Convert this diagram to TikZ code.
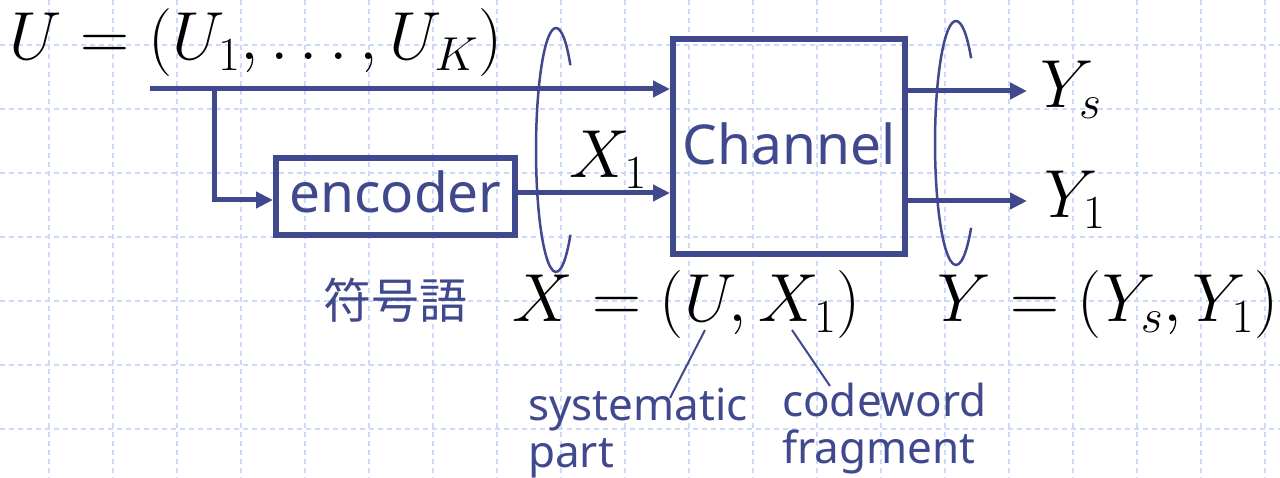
\RequirePackage{fix-cm}
\documentclass[tikz,border=0pt]{standalone}
\usepackage{fontspec}
\newfontfamily\lab{Noto Sans}
\newfontfamily\cjk{Noto Sans CJK JP}
\usetikzlibrary{arrows.meta}
\definecolor{ink}{RGB}{65,73,142}
\definecolor{gridc}{RGB}{205,217,248}
\begin{document}
\begin{tikzpicture}[x=1pt,y=-1pt,
  wire/.style={draw=ink,line width=5pt,-{Triangle[length=17pt,width=16pt]}},
  block/.style={draw=ink,line width=6pt,rectangle,inner sep=0pt,font=\lab\fontsize{55}{60}\selectfont,text=ink},
  mathlbl/.style={inner sep=0pt,font=\fontsize{68}{74}\selectfont},
  note/.style={inner sep=0pt,text=ink,font=\lab\fontsize{44}{47}\selectfont,align=left},
  ring/.style={draw=ink,line width=2.5pt},
  leader/.style={draw=ink,line width=2pt},
  gridline/.style={draw=gridc,line width=2pt,dash pattern=on 5pt off 4pt}]
\fill[white] (0,0) rectangle (1280,478);
\useasboundingbox (0,0) rectangle (1280,478);
\foreach \gx in {49,113,...,1265} \draw[gridline] (\gx,0) -- (\gx,478);
\foreach \gy in {45,109,...,429} \draw[gridline] (0,\gy) -- (1280,\gy);

\node[block,minimum width=239pt,minimum height=77pt,text height=40pt,text depth=7pt] (enc) at (395.5,196.5) {encoder};
\node[block,minimum width=232pt,minimum height=215pt,text height=42pt,text depth=5pt] (chan) at (789,146.5) {Channel};

\node[mathlbl,anchor=base] (ueq) at (256,60) {$U=(U_1,\ldots,U_K)$};
\node[mathlbl,anchor=base] (x1) at (608,178) {$X_1$};
\node[mathlbl,anchor=base] (ys) at (1071,108) {$Y_s$};
\node[mathlbl,anchor=base] (y1) at (1075,218) {$Y_1$};
\node[mathlbl,anchor=base] (xeq) at (686.5,322) {$X=(U,X_1)$};
\node[mathlbl,anchor=base] (yeq) at (1108,322) {$Y=(Y_s,Y_1)$};
\node[inner sep=0pt,text=ink,font=\cjk\fontsize{48}{52}\selectfont] (fg) at (395,300) {符号語};
\node[note,anchor=base west] (sys) at (528,467) {systematic\\part};
\node[note,anchor=base west] (cw) at (782,463) {codeword\\fragment};

\coordinate (uStart) at (150,89);
\coordinate (branch) at (214,86.5);
\coordinate (ysEnd) at (1027,91);
\coordinate (y1End) at (1027,201);
\draw[wire] (uStart) -- (uStart -| chan.west);
\draw[wire] (branch) |- ([yshift=-3.5pt]enc.west);
\draw[wire] ([yshift=3.5pt]enc.east) -- ([yshift=3.5pt]enc.east -| chan.west);
\draw[wire] (ysEnd -| chan.east) -- (ysEnd);
\draw[wire] (y1End -| chan.east) -- (y1End);

\coordinate (ringL) at (556,150);
\coordinate (ringR) at (956,143);
\draw[ring] (ringL) ++(44:20pt and 122pt) arc[start angle=44,end angle=316,x radius=20pt,y radius=122pt];
\draw[ring] (ringR) ++(44:21pt and 122pt) arc[start angle=44,end angle=316,x radius=21pt,y radius=122pt];

\coordinate (uFoot) at (705,330);
\coordinate (sysHook) at (670,398);
\coordinate (xFoot) at (792,330);
\coordinate (cwHook) at (830,386);
\draw[leader] (uFoot) -- (sysHook);
\draw[leader] (xFoot) -- (cwHook);
\end{tikzpicture}
\end{document}
